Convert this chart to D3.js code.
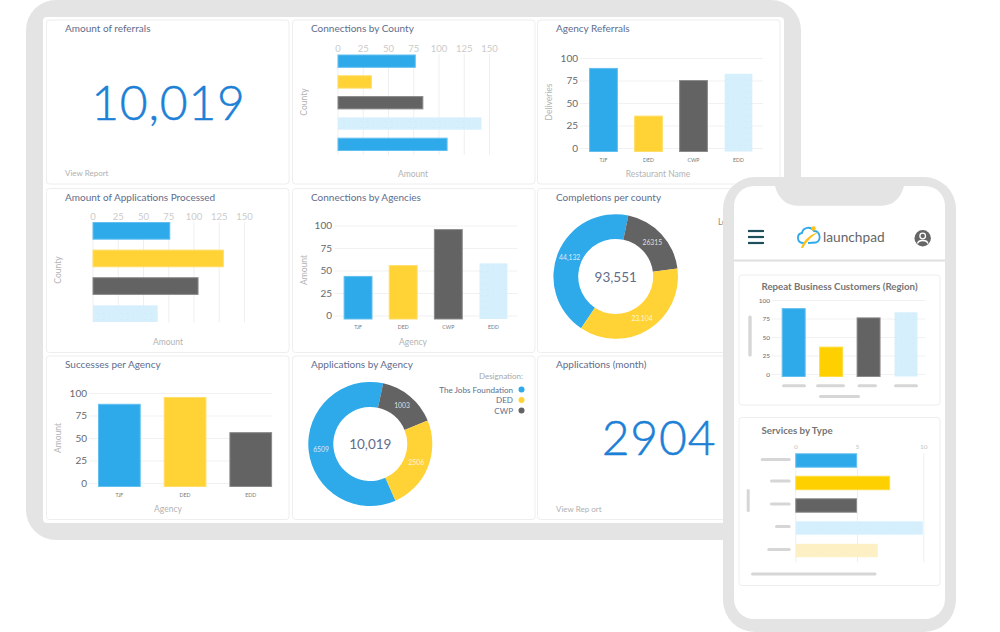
<!DOCTYPE html>
<html>
<head>
<meta charset="utf-8">
<script src="https://cdn.jsdelivr.net/npm/d3@7"></script>
<style>
  html, body { margin: 0; background: #fff; }
  svg { display: block; }
  text { font-family: Lato, "Open Sans", sans-serif; }
</style>
</head>
<body>
<div id="graph"></div>
<script>
// colours
const blue = '#2ea9ea'
const yellow = '#ffd235'
const gold = '#ffd000'
const gray = '#636363'
const pale = '#d6effd'
const cream = '#fdf0c4'
const titleColor = '#5f6d8b'
const frameColor = '#e4e4e4'

// data
const hTicks = [0, 25, 50, 75, 100, 125, 150]
const vTicks = [0, 25, 50, 75, 100]
const serviceTicks = [0, 5, 10]

const referralsCount = '10,019'
const monthCount = '2904'

const countyAmounts = [77.5, 34, 85, 143, 109]
const processedAmounts = [77, 130, 105, 65]

const agencies = ['TJF', 'DED', 'CWP', 'EDD']
const referralValues = [89, 36, 75.5, 83]
const connectionValues = [44, 56, 96, 58.5]

const successAgencies = ['TJF', 'DED', 'EDD']
const successValues = [88, 95.5, 56.5]

// the drawn arc shares, the printed labels do not add up to the arcs
const completionShares = [43.9, 19.7, 36.4]
const completionLabels = ['44,132', '26315', '23,104']
const completionTotal = '93,551'

const applicationShares = [60, 15.5, 24.5]
const applicationLabels = ['6509', '1003', '2506']
const applicationTotal = '10,019'
const designations = ['The Jobs Foundation', 'DED', 'CWP']

const repeatValues = [89, 37, 76.5, 84]
const serviceValues = [5, 7.5, 5, 10, 6.6]

const svg = d3.select('#graph').append('svg')
  .attr('width', 1000)
  .attr('height', 632)

// the pale bars carry a faint dot texture
const dots = (id, back, dot) => {
  const p = svg.append('defs').append('pattern')
    .attr('id', id)
    .attr('width', 6).attr('height', 6)
    .attr('patternUnits', 'userSpaceOnUse')
  p.append('rect').attr('width', 6).attr('height', 6).attr('fill', back)
  p.append('circle').attr('cx', 1.5).attr('cy', 1.5).attr('r', 0.5).attr('fill', dot)
}
dots('dotsPale', pale, '#cbe9fa')
dots('dotsCream', cream, '#fbeab8')
const paleFill = 'url(#dotsPale)'
const creamFill = 'url(#dotsCream)'

// lighter edge around the solid bars
const edge = c => c.startsWith('url') ? 'none' : d3.interpolateRgb(c, '#fff')(0.25)

const label = (g, x, y, str, size, fill, anchor = 'start', weight = 400) =>
  g.append('text')
    .attr('x', x)
    .attr('y', y)
    .attr('font-size', size)
    .attr('fill', fill)
    .attr('font-weight', weight)
    .attr('text-anchor', anchor)
    .text(str)

const bigNumber = (x, y, str) =>
  label(svg, x, y, str, 48, '#1b80d6', 'middle', 300)
    .attr('stroke', '#1b80d6')
    .attr('stroke-width', 0.5)
    .attr('letter-spacing', 0.8)

const sideLabel = (g, x, y, str, size = 8.5) =>
  g.append('text')
    .attr('transform', `translate(${x},${y}) rotate(-90)`)
    .attr('dy', '0.35em')
    .attr('font-size', size)
    .attr('fill', '#b3b3b3')
    .attr('text-anchor', 'middle')
    .text(str)

const card = (x, y, w, h, title) => {
  svg.append('rect')
    .attr('x', x).attr('y', y).attr('width', w).attr('height', h)
    .attr('rx', 3)
    .attr('fill', '#fff')
    .attr('stroke', '#eeeeee')
  label(svg, x + 18.5, y + 12.3, title, 10, titleColor)
}

const drawBar = (sel, colors) =>
  sel.attr('fill', (d, i) => colors[i])
    .attr('stroke', (d, i) => edge(colors[i]))
    .attr('stroke-width', 1)

// horizontal bars, axis on top
const hBars = ({ values, colors, ticks, domain, xRange, yRange, gridTop, gridBottom, padding, tickSize = 9.5, tickColor = '#cbcbcb', tickGap = 2 }) => {
  const x = d3.scaleLinear().domain(domain).range(xRange)
  const y = d3.scaleBand().domain(d3.range(values.length)).range(yRange).paddingInner(padding)
  const axis = svg.append('g')
    .attr('transform', `translate(0,${gridTop})`)
    .call(d3.axisTop(x).tickValues(ticks).tickSize(gridTop - gridBottom).tickPadding(tickGap))
  axis.select('.domain').remove()
  axis.selectAll('line').attr('stroke', '#efefef')
  axis.selectAll('text')
    .attr('font-size', tickSize)
    .attr('fill', tickColor)
  svg.append('g').selectAll('rect')
    .data(values)
    .join('rect')
    .attr('x', x(0) + 0.5)
    .attr('y', (d, i) => y(i) + 0.5)
    .attr('width', d => x(d) - x(0) - 1)
    .attr('height', y.bandwidth() - 1)
    .call(drawBar, colors)
}

// vertical bars, the bars run a little past the zero line like in the picture
const vBars = ({ cats, values, colors, band, padIn, padOut, gridX, yTop, yBase, drop, tickSize = 10, catSize = 5.2, catY }) => {
  const x = d3.scaleBand().domain(d3.range(values.length)).range(band).paddingInner(padIn).paddingOuter(padOut)
  const y = d3.scaleLinear().domain([0, 100]).range([yBase, yTop])
  const axis = svg.append('g')
    .attr('transform', `translate(${gridX[0]},0)`)
    .call(d3.axisLeft(y).tickValues(vTicks).tickSize(gridX[0] - gridX[1]).tickPadding(2))
  axis.select('.domain').remove()
  axis.selectAll('line').attr('stroke', '#f1f1f1')
  axis.selectAll('text')
    .attr('font-size', tickSize)
    .attr('fill', '#66696e')
  svg.append('g').selectAll('rect')
    .data(values)
    .join('rect')
    .attr('x', (d, i) => x(i) + 0.5)
    .attr('y', d => y(d) + 0.5)
    .attr('width', x.bandwidth() - 1)
    .attr('height', d => y(0) - y(d) + drop - 1)
    .call(drawBar, colors)
  if (cats) {
    svg.append('g').selectAll('text')
      .data(cats)
      .join('text')
      .attr('x', (d, i) => x(i) + x.bandwidth() / 2)
      .attr('y', catY)
      .attr('font-size', catSize)
      .attr('fill', '#777')
      .attr('text-anchor', 'middle')
      .text(d => d)
  }
}

const donut = ({ shares, labels, total, cx, cy, outer, inner, start, valueSize }) => {
  const g = svg.append('g').attr('transform', `translate(${cx},${cy})`)
  const pie = d3.pie().sort(null).startAngle(start).endAngle(start + 2 * Math.PI)
  const arc = d3.arc().innerRadius(inner).outerRadius(outer)
  const slices = pie(shares)
  const colors = [blue, gray, yellow]
  g.selectAll('path')
    .data(slices)
    .join('path')
    .attr('d', arc)
    .attr('fill', (d, i) => colors[i])
  g.selectAll('text.val')
    .data(slices)
    .join('text')
    .attr('class', 'val')
    .attr('transform', d => `translate(${arc.centroid(d)})`)
    .attr('dy', '0.35em')
    .attr('font-size', valueSize)
    .attr('fill', '#fff')
    .attr('fill-opacity', 0.8)
    .attr('text-anchor', 'middle')
    .text((d, i) => labels[i])
  label(g, 0, 5, total, 13.5, titleColor, 'middle')
}

// tablet frame
svg.append('rect')
  .attr('x', 26).attr('y', 0).attr('width', 775).attr('height', 540)
  .attr('rx', 30)
  .attr('fill', frameColor)
svg.append('rect')
  .attr('x', 43).attr('y', 17).attr('width', 741).attr('height', 506)
  .attr('rx', 4)
  .attr('fill', '#fff')

const colX = [46.5, 292.5, 537.5]
const rowY = [20, 188.5, 356]
const cardW = 242.5
const cardH = 164
const axisText = '#b3b3b3'

// row 1
card(colX[0], rowY[0], cardW, cardH, 'Amount of referrals')
bigNumber(168.5, 119.5, referralsCount)
label(svg, 65, 176, 'View Report', 8, '#b0b0b0')

card(colX[1], rowY[0], cardW, cardH, 'Connections by County')
hBars({
  values: countyAmounts, colors: [blue, yellow, gray, paleFill, blue],
  ticks: hTicks, domain: [0, 150], xRange: [337.5, 489],
  yRange: [54.5, 151], padding: 0.36, gridTop: 155, gridBottom: 54
})
label(svg, 413, 177, 'Amount', 8.5, axisText, 'middle')
sideLabel(svg, 304, 102, 'County')

card(colX[2], rowY[0], cardW, cardH, 'Agency Referrals')
vBars({
  cats: agencies, values: referralValues, colors: [blue, yellow, gray, paleFill],
  band: [581, 761], padIn: 0.36, padOut: 0.18, gridX: [580, 763],
  yTop: 58, yBase: 148, drop: 4, catY: 162
})
label(svg, 658, 177, 'Restaurant Name', 8.5, axisText, 'middle')
sideLabel(svg, 549, 102, 'Deliveries')

// row 2
card(colX[0], rowY[1], cardW, cardH, 'Amount of Applications Processed')
hBars({
  values: processedAmounts, colors: [blue, yellow, gray, paleFill],
  ticks: hTicks, domain: [0, 150], xRange: [92.5, 244],
  yRange: [222, 322.5], padding: 0.36, gridTop: 322.5, gridBottom: 222
})
label(svg, 168, 345, 'Amount', 8.5, axisText, 'middle')
sideLabel(svg, 58, 270, 'County')

card(colX[1], rowY[1], cardW, cardH, 'Connections by Agencies')
vBars({
  cats: agencies, values: connectionValues, colors: [blue, yellow, gray, paleFill],
  band: [335.5, 516], padIn: 0.36, padOut: 0.18, gridX: [334, 517.5],
  yTop: 225.5, yBase: 315.5, drop: 4, catY: 329
})
label(svg, 413, 345, 'Agency', 8.5, axisText, 'middle')
sideLabel(svg, 304, 270, 'Amount')

card(colX[2], rowY[1], cardW, cardH, 'Completions per county')
donut({
  shares: completionShares, labels: completionLabels, total: completionTotal,
  cx: 615.7, cy: 276.5, outer: 62.3, inner: 37.5, start: (213.7 - 360) * Math.PI / 180, valueSize: 6.8
})
label(svg, 718, 225, 'Legend', 8.5, '#8a8a8a')

// row 3
card(colX[0], rowY[2], cardW, cardH - 0.5, 'Successes per Agency')
vBars({
  cats: successAgencies, values: successValues, colors: [blue, yellow, gray],
  band: [88.8, 281.3], padIn: 0.35, padOut: 0.14, gridX: [89, 272],
  yTop: 393, yBase: 483, drop: 4, catY: 497
})
label(svg, 168, 512, 'Agency', 8.5, axisText, 'middle')
sideLabel(svg, 58, 438, 'Amount')

card(colX[1], rowY[2], cardW, cardH - 0.5, 'Applications by Agency')
donut({
  shares: applicationShares, labels: applicationLabels, total: applicationTotal,
  cx: 370.3, cy: 444, outer: 62, inner: 37, start: (156 - 360) * Math.PI / 180, valueSize: 6.8
})
label(svg, 523, 379, 'Designation:', 8, '#a8a8a8', 'end')
const legendY = d3.scalePoint().domain(designations).range([389.5, 410.5])
const legendColors = d3.scaleOrdinal().domain(designations).range([blue, yellow, gray])
const legend = svg.append('g').selectAll('g').data(designations).join('g')
legend.append('circle')
  .attr('cx', 521.5)
  .attr('cy', d => legendY(d))
  .attr('r', 3)
  .attr('fill', d => legendColors(d))
legend.append('text')
  .attr('x', 513)
  .attr('y', d => legendY(d) + 3)
  .attr('font-size', 8.1)
  .attr('fill', titleColor)
  .attr('text-anchor', 'end')
  .text(d => d)

card(colX[2], rowY[2], cardW, cardH - 0.5, 'Applications (month)')
bigNumber(659, 455, monthCount)
label(svg, 556, 512, 'View Rep ort', 8, '#b0b0b0')

// phone frame
svg.append('rect')
  .attr('x', 723).attr('y', 177).attr('width', 233).attr('height', 455)
  .attr('rx', 32)
  .attr('fill', frameColor)
svg.append('rect')
  .attr('x', 734).attr('y', 186).attr('width', 211).attr('height', 433)
  .attr('rx', 20)
  .attr('fill', '#fff')
svg.append('path')
  .attr('d', 'M775,186 C778,198 786,205.7 797,205.7 H882 C893,205.7 901,198 904,186 Z')
  .attr('fill', frameColor)

// phone header
const menu = svg.append('g').attr('stroke', '#1d4f5c').attr('stroke-width', 2.2)
d3.range(3).forEach(i => {
  menu.append('line')
    .attr('x1', 748).attr('x2', 764)
    .attr('y1', 231 + i * 6).attr('y2', 231 + i * 6)
})
svg.append('path')
  .attr('d', 'M804,243 H803 C797,243 796,234 802,233 C803,227 811,226 814,231 C820,231 822,240 816,242.5 L808,243')
  .attr('fill', 'none')
  .attr('stroke', blue)
  .attr('stroke-width', 1.8)
svg.append('path')
  .attr('d', 'M801,248 C804,239 811,234 819,232 C812,236 807,241 803,248 Z')
  .attr('fill', '#fdc21a')
svg.append('circle').attr('cx', 813.5).attr('cy', 228.5).attr('r', 2.2).attr('fill', '#fdc21a')
label(svg, 823, 242, 'launchpad', 13.7, '#666')
svg.append('circle').attr('cx', 922.7).attr('cy', 238.3).attr('r', 8.2).attr('fill', '#666')
svg.append('circle').attr('cx', 922.7).attr('cy', 236).attr('r', 2.8)
  .attr('fill', 'none').attr('stroke', '#fff').attr('stroke-width', 1.3)
svg.append('path')
  .attr('d', 'M917.5,243.5 C918.5,239.5 927,239.5 928,243.5')
  .attr('fill', 'none').attr('stroke', '#fff').attr('stroke-width', 1.3)
svg.append('rect').attr('x', 734).attr('y', 259.5).attr('width', 211).attr('height', 2).attr('fill', '#e0e0e0')

const pill = (x1, x2, y, h = 3) =>
  svg.append('rect')
    .attr('x', x1).attr('y', y - h / 2).attr('width', x2 - x1).attr('height', h)
    .attr('rx', 1.5)
    .attr('fill', '#d6d6d6')

// phone card 1
svg.append('rect').attr('x', 739).attr('y', 275).attr('width', 201).attr('height', 130)
  .attr('rx', 3).attr('fill', '#fff').attr('stroke', '#eeeeee')
label(svg, 761.5, 289.5, 'Repeat Business Customers (Region)', 9.7, '#757575', 'start', 700)
vBars({
  values: repeatValues, colors: [blue, gold, gray, paleFill],
  band: [775.7, 924], padIn: 0.36, padOut: 0.16, gridX: [772, 925.7],
  yTop: 300, yBase: 374, drop: 3, tickSize: 6.5
})
pill(748.3, 751.7, 336, 41)
pill(782, 806, 385.7)
pill(816, 845, 385.7)
pill(857.5, 877, 385.7)
pill(894, 918, 385.7)
pill(819, 860, 396.5)

// phone card 2
svg.append('rect').attr('x', 739).attr('y', 417.5).attr('width', 201).attr('height', 168)
  .attr('rx', 3).attr('fill', '#fff').attr('stroke', '#eeeeee')
label(svg, 761.5, 433.5, 'Services by Type', 9.7, '#757575', 'start', 700)
hBars({
  values: serviceValues, colors: [blue, gold, gray, paleFill, creamFill],
  ticks: serviceTicks, domain: [0, 5, 10], xRange: [795.3, 857, 923.3],
  yRange: [453.3, 557.7], padding: 0.36, gridTop: 562, gridBottom: 453,
  tickSize: 6.5, tickColor: '#c4c4c4', tickGap: 4
})
pill(760.7, 790.7, 459.5)
pill(770, 790.7, 481)
pill(770, 790.7, 504)
pill(775, 790.7, 526.5)
pill(767.3, 790.7, 549.5)
pill(751, 876.5, 574)
pill(746.7, 749.7, 500.5, 23)
</script>
</body>
</html>
